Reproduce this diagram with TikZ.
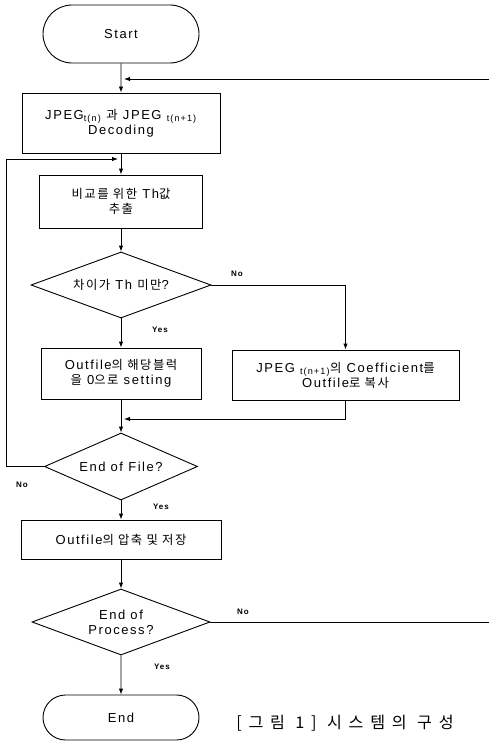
\documentclass[tikz,border=0pt]{standalone}
\usepackage{fontspec}
\setmainfont{Liberation Sans}[LetterSpace=12]
\newfontfamily\kr{Noto Sans CJK KR}[Scale=0.95, LetterSpace=12]
\usetikzlibrary{arrows.meta, shapes.geometric, shapes.misc}

\begin{document}
\begin{tikzpicture}[x=1pt, y=-1pt, line width=0.9pt, >={Latex[length=6pt,width=4.5pt]}, font=\fontsize{13}{15}\selectfont]
    \tikzstyle{terminal}=[rounded rectangle, draw, minimum width=156pt, inner sep=0pt]
    \tikzstyle{process}=[rectangle, draw, align=center, inner sep=0pt]
    \tikzstyle{decision}=[diamond, draw, align=center, inner sep=0pt, aspect=2.7]
    \tikzstyle{answer}=[font=\fontsize{8}{9}\selectfont\bfseries]

    \useasboundingbox (0,0) rectangle (489,741);
    \clip (0,0) rectangle (489,741);

    % Draw the main column
    \node[terminal, minimum height=58pt] (start) at (121,34) {Start};
    \node[process, minimum width=198pt, minimum height=60pt] (dec) at (121,123) {JPEG\textsubscript{t(n)} {\kr 과} JPEG \textsubscript{t(n+1)}\\Decoding};
    \node[process, minimum width=163pt, minimum height=53pt] (th) at (121,201.5) {{\kr 비교를 위한} Th{\kr 값}\\{\kr 추출}};
    \node[decision, minimum width=180pt, minimum height=66pt] (d1) at (121,285) {{\kr 차이가} Th {\kr 미만}?};
    \node[process, minimum width=160pt, minimum height=51pt] (zero) at (121,373.5) {Outfile{\kr 의 해당블럭}\\{\kr 을} 0{\kr 으로} setting};
    \node[process, minimum width=227pt, minimum height=50pt] (copy) at (345.5,375) {JPEG \textsubscript{t(n+1)}{\kr 의} Coefficient{\kr 를}\\Outfile{\kr 로 복사}};
    \node[decision, minimum width=153pt, minimum height=67pt] (d2) at (121,466.5) {End of File?};
    \node[process, minimum width=200pt, minimum height=39pt] (save) at (121,539.5) {Outfile{\kr 의 압축 및 저장}};
    \node[decision, minimum width=178pt, minimum height=66pt] (d3) at (121,622) {End of\\Process?};
    \node[terminal, minimum height=45pt] (end) at (121,717.5) {End};

    \node[font=\fontsize{17}{19}\selectfont] (caption) at (345,723) {\kr\addfontfeatures{LetterSpace=42}[그림 1] 시스템의 구성};

    % Join points of the loops
    \coordinate (top) at (121,79);
    \coordinate (left) at (121,159);
    \coordinate (merge) at (121,419);

    % Draw the connectors
    \draw[->] (start) -- (dec);
    \draw[->] (dec) -- (th);
    \draw[->] (th) -- (d1);
    \draw[->] (d1) -- (zero);
    \draw[->] (d1.east) -- (345.5,285) -- (copy.north);
    \draw[->] (zero) -- (d2);
    \draw[->] (copy.south) -- (345.5,419) -- ([xshift=3pt]merge);
    \draw[->] (d2.west) -- (6,466.5) -- (6,159) -- ([xshift=-3pt]left);
    \draw[->] (d2) -- (save);
    \draw[->] (save) -- (d3);
    \draw[->] (d3) -- (end);
    \draw[->] (d3.east) -- (495,622) -- (495,79) -- ([xshift=3pt]top);

    % Answers
    \node[answer] (no1) at (237,274) {No};
    \node[answer] (yes1) at (160,330) {Yes};
    \node[answer] (no2) at (22,485) {No};
    \node[answer] (yes2) at (161,507) {Yes};
    \node[answer] (no3) at (243,612) {No};
    \node[answer] (yes3) at (162,667) {Yes};
\end{tikzpicture}
\end{document}
